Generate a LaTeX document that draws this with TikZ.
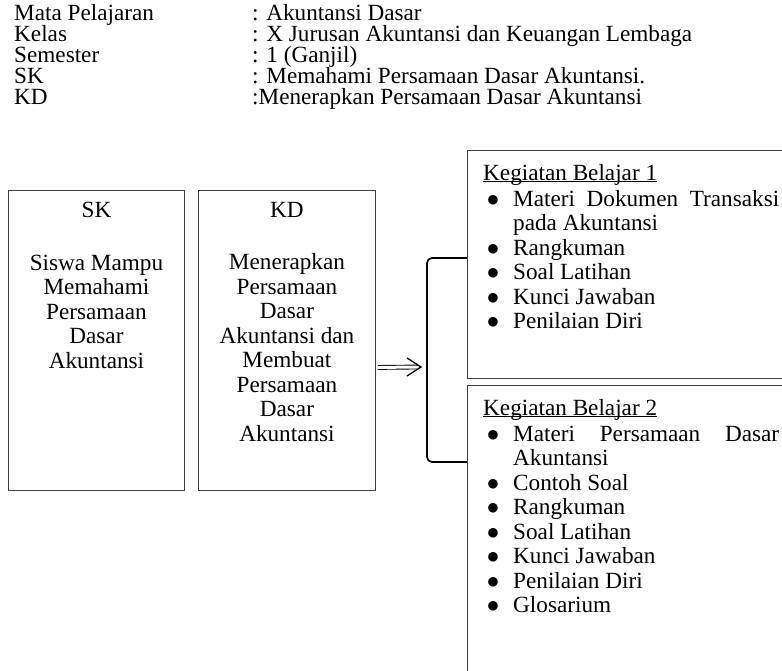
\documentclass[tikz,border=0pt]{standalone}
\usepackage{fontspec}
\setmainfont{Liberation Serif}
\usepackage{enumitem}
\usetikzlibrary{arrows.meta}

\hyphenpenalty=10000
\setlist[itemize]{nosep, topsep=1.5pt, leftmargin=30pt, labelsep=14pt, label=$\bullet$}
\newcommand\ultitle[1]{\setbox0=\hbox{#1}\dp0=0pt\underline{\box0}}

\tikzset{
  box/.style={draw=black!75, line width=0.9pt, anchor=north west, inner sep=0pt},
  txt/.style={font=\fontsize{23.2}{24.5}\selectfont, inner sep=0pt},
  head/.style={txt, anchor=base west},
}

\begin{document}
\begin{tikzpicture}[x=1pt,y=-1pt]
\clip (0,0) rectangle (782,671);

\node[head] (mapel) at (14,21) {Mata Pelajaran};
\node[head] (kelas) at (14,42) {Kelas};
\node[head] (sem) at (14,63) {Semester};
\node[head] (sk0) at (14,84) {SK};
\node[head] (kd0) at (14,105) {KD};
\node[head] (mapelv) at (252,21) {: Akuntansi Dasar};
\node[head] (kelasv) at (252,42) {: X Jurusan Akuntansi dan Keuangan Lembaga};
\node[head] (semv) at (252,63) {: 1 (Ganjil)};
\node[head] (sk0v) at (252,84) {: Memahami Persamaan Dasar Akuntansi.};
\node[head] (kd0v) at (252,105) {:Menerapkan Persamaan Dasar Akuntansi};

\node[box, minimum width=176, minimum height=300] (sk) at (8,190) {};
\node[box, minimum width=177, minimum height=300] (kd) at (198,190) {};
\node[txt, anchor=north, align=center] (sktext) at ([yshift=-12]sk.north)
  {SK\\[28pt]Siswa Mampu\\Memahami\\Persamaan\\Dasar\\Akuntansi};
\node[txt, anchor=north, align=center] (kdtext) at ([yshift=-12]kd.north)
  {KD\\[28pt]Menerapkan\\Persamaan\\Dasar\\Akuntansi dan\\Membuat\\Persamaan\\Dasar\\Akuntansi};

\node[box, minimum width=340, minimum height=228] (kb1) at (467,150) {};
\node[box, minimum width=340, minimum height=330] (kb2) at (467,385) {};
\node[txt, anchor=north west, text width=296, align=justify] (kb1text) at ([xshift=16, yshift=-14]kb1.north west)
  {\ultitle{Kegiatan Belajar 1}
  \begin{itemize}
  \item Materi Dokumen Transaksi pada Akuntansi
  \item Rangkuman
  \item Soal Latihan
  \item Kunci Jawaban
  \item Penilaian Diri
  \end{itemize}};
\node[txt, anchor=north west, text width=296, align=justify] (kb2text) at ([xshift=16, yshift=-14]kb2.north west)
  {\ultitle{Kegiatan Belajar 2}
  \begin{itemize}
  \item Materi Persamaan Dasar Akuntansi
  \item Contoh Soal
  \item Rangkuman
  \item Soal Latihan
  \item Kunci Jawaban
  \item Penilaian Diri
  \item Glosarium
  \end{itemize}};

\draw[line width=1.6pt, rounded corners=5] ([yshift=-108]kb1.north west) -- ++(-40,0) |- ([yshift=-77]kb2.north west);
\coordinate (brk) at (421,367);
\draw[double, double distance=3pt, line width=0.9pt] ([xshift=2, yshift=-27]kd.east) -- ([xshift=-3]brk);
\draw[line width=1.3pt] ([xshift=-14, yshift=9]brk) -- (brk) -- ([xshift=-14, yshift=-9]brk);
\end{tikzpicture}
\end{document}
